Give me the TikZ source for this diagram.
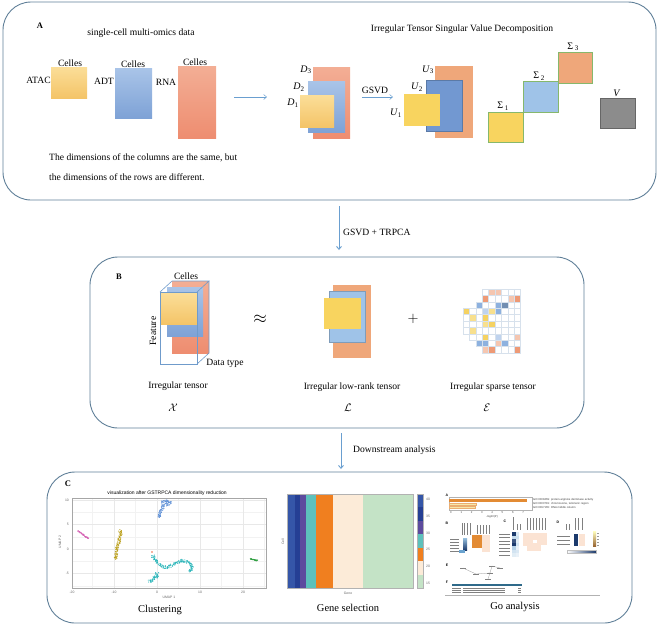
\documentclass[tikz,border=0pt]{standalone}
\usepackage{fontspec}
\setmainfont{Liberation Serif}
\newfontfamily\sansf{Liberation Sans}
\usetikzlibrary{arrows.meta}
\definecolor{panelc}{HTML}{5F7F98}
\definecolor{arrc}{HTML}{6A9FD0}
\definecolor{yelT}{HTML}{FBDE98}
\definecolor{yelB}{HTML}{F4C468}
\definecolor{bluT}{HTML}{A9C4E8}
\definecolor{bluB}{HTML}{7EA2D6}
\definecolor{orT}{HTML}{F3AE95}
\definecolor{orB}{HTML}{EE8D70}
\definecolor{yelS}{HTML}{F8D45F}
\definecolor{bluS}{HTML}{7298D1}
\definecolor{bluL}{HTML}{9FC3E8}
\definecolor{orS}{HTML}{EFA77A}
\definecolor{sigG}{HTML}{86B86C}
\definecolor{grayV}{HTML}{8C8C8C}
\definecolor{cubeE}{HTML}{6F9BCB}
\definecolor{gridc}{HTML}{D7E1EC}
\definecolor{spY}{HTML}{F5D262}
\definecolor{spYL}{HTML}{F8E08E}
\definecolor{spB}{HTML}{8DB1DF}
\definecolor{spBL}{HTML}{BFD3EE}
\definecolor{spO}{HTML}{EE9A76}
\definecolor{spOL}{HTML}{F5C6B0}
\definecolor{uPink}{HTML}{D45FB2}
\definecolor{uGold}{HTML}{BBA01C}
\definecolor{uBlue}{HTML}{5D8FD6}
\definecolor{uTeal}{HTML}{27B4B8}
\definecolor{uRed}{HTML}{F0643C}
\definecolor{uGreen}{HTML}{2E9E40}
\definecolor{hm1}{HTML}{3556A8}
\definecolor{hm2}{HTML}{253F94}
\definecolor{hm3}{HTML}{5D4B9E}
\definecolor{hm4}{HTML}{5DC1BC}
\definecolor{hm5}{HTML}{F07F1F}
\definecolor{hm6}{HTML}{FCEBD8}
\definecolor{hm7}{HTML}{C4E3C6}
\definecolor{goOr}{HTML}{E38B34}
\definecolor{goYe}{HTML}{F7E7A8}
\definecolor{goNavy}{HTML}{1C3A6C}
\definecolor{goLB}{HTML}{6AA3CF}
\definecolor{goPeach}{HTML}{FBE3D3}
\definecolor{goTeal}{HTML}{2F6A8A}
\tikzset{
  panel/.style={draw=panelc, line width=0.9pt, rounded corners=28pt},
  lbl/.style={inner sep=0pt, font=\fontsize{9.6}{10}\selectfont},
  big/.style={inner sep=0pt, font=\fontsize{10.5}{11}\selectfont},
  plab/.style={inner sep=0pt, font=\bfseries\fontsize{8.5}{9}\selectfont},
  idx/.style={inner sep=0pt, font=\fontsize{10}{10}\selectfont},
  thinarr/.style={draw=arrc, line width=0.5pt, -{Straight Barb[length=3pt,width=5pt]}},
  flowarr/.style={draw=arrc, line width=0.9pt, -{Straight Barb[length=3pt,width=5pt]}},
  yelg/.style={top color=yelT, bottom color=yelB},
  blug/.style={top color=bluT, bottom color=bluB},
  org/.style={top color=orT, bottom color=orB},
  sig/.style={draw=sigG, line width=0.6pt},
  tinyt/.style={inner sep=0pt, text=black!75, font=\sansf\fontsize{2.8}{3}\selectfont},
  tinyb/.style={inner sep=0pt, font=\sansf\bfseries\fontsize{3.5}{4}\selectfont},
  axt/.style={inner sep=0pt, text=black!60, font=\sansf\fontsize{3.4}{4}\selectfont},
  txtline/.style={draw=black!50, line width=0.7pt},
  netedge/.style={draw=black!45, line width=0.25pt},
}
\newcommand\umapblob[6]{\foreach \k in {1,...,#6}{\fill[#1] ({#2+#4*rand},{#3+#5*rand}) circle (0.55);}}
\newcommand\spcell[3]{\fill[#3] ({463+6.4*#1},{289+6.4*#2}) rectangle ++(6.4,6.4);}
\begin{document}
\begin{tikzpicture}[x=1pt,y=-1pt]
\useasboundingbox (0,0) rectangle (658,625);
\pgfmathsetseed{11}
%================ PANEL A
\draw[panel] (3,2) rectangle (656,200);
\node[plab] (tA) at (40,26) {A};
\node[lbl] (tsc) at (141,33) {single-cell multi-omics data};
\node[lbl] (tits) at (462,29) {Irregular Tensor Singular Value Decomposition};
% raw blocks
\fill[yelg] (51,67) rectangle (87,98);
\fill[blug] (115,68) rectangle (152,118);
\fill[org] (178,66) rectangle (216,138);
\node[lbl] (tatac) at (38.5,80) {ATAC};
\node[lbl] (tadt) at (104,81) {ADT};
\node[lbl] (trna) at (166,82) {RNA};
\node[lbl] (c1) at (70,63) {Celles};
\node[lbl] (c2) at (133,64) {Celles};
\node[lbl] (c3) at (195,62) {Celles};
\coordinate (ar1s) at (234,97);
\coordinate (ar1e) at (267,97);
\draw[thinarr] (ar1s) -- (ar1e);
% D stack
\fill[org] (313,67) rectangle (350,138);
\fill[blug] (308,81) rectangle (345,132);
\fill[yelg] (300,95) rectangle (334,127);
\node[idx] (d3) at (306,70) {\textit{D}\textsubscript{3}};
\node[idx] (d2) at (299,87) {\textit{D}\textsubscript{2}};
\node[idx] (d1) at (293,103) {\textit{D}\textsubscript{1}};
% GSVD arrow
\coordinate (ar2s) at (362,97);
\coordinate (ar2e) at (393,97);
\draw[thinarr] (ar2s) -- (ar2e);
\node[lbl] (tgsvd) at (375,90) {GSVD};
% U stack
\fill[orS] (435,66) rectangle (473,138);
\filldraw[fill=bluS, draw=bluS!80!black, line width=0.3pt] (426,80) rectangle (462,131);
\fill[yelS] (404,94) rectangle (440,126);
\node[idx] (u3) at (428,70) {\textit{U}\textsubscript{3}};
\node[idx] (u2) at (417,87) {\textit{U}\textsubscript{2}};
\node[idx] (u1) at (396,113) {\textit{U}\textsubscript{1}};
% Sigma blocks
\fill[yelS] (488,112) rectangle (523,142);
\fill[bluL] (523,81) rectangle (558,112);
\fill[orS] (558,52) rectangle (592,83);
\draw[sig] (488,112) rectangle (523,142);
\draw[sig] (523,81) rectangle (558,112);
\draw[sig] (558,52) rectangle (592,83);
\node[idx] (s1) at (503,106) {Σ\,\textsubscript{1}};
\node[idx] (s2) at (539,76) {Σ\,\textsubscript{2}};
\node[idx] (s3) at (573,47) {Σ\,\textsubscript{3}};
\filldraw[fill=grayV, draw=black!60, line width=0.4pt] (600,98) rectangle (635,128);
\node[idx] (tv) at (617,93) {\textit{V}};
\node[lbl, anchor=west] (tl1) at (49,158) {The dimensions of the columns are the same, but};
\node[lbl, anchor=west] (tl2) at (49,177) {the dimensions of the rows are different.};
%================ arrow A -> B
\coordinate (ab1) at (339,206);
\coordinate (ab2) at (339,250);
\draw[flowarr] (ab1) -- (ab2);
\node[lbl, anchor=west] (tgt) at (343,232) {GSVD + TRPCA};
%================ PANEL B
\draw[panel] (90,257) rectangle (584,428);
\node[plab] (tB) at (119,277) {B};
% cube
\fill[org] (172,281) rectangle (209,353);
\fill[blug] (167,287) rectangle (203,336);
\fill[yelg] (160,293) rectangle (197,324);
\draw[cubeE, line width=0.6pt] (160,292) rectangle (197,364);
\draw[cubeE, line width=0.6pt] (160,292) -- (172,281) -- (209,281) -- (197,292);
\draw[cubeE, line width=0.6pt] (209,281) -- (209,353) -- (197,364);
\node[lbl] (tcel) at (186,276) {Celles};
\node[lbl, rotate=90] (tfeat) at (153,331) {Feature};
\node[lbl] (tdt) at (225,363) {Data type};
\node[inner sep=0pt, font=\fontsize{18}{18}\selectfont] (tapp) at (260,319) {$\approx$};
\node[lbl] (tirr) at (178,386) {Irregular tensor};
\node[inner sep=0pt, font=\fontsize{11}{11}\selectfont] (tX) at (173,408) {$\mathcal{X}$};
% low rank
\fill[orS] (333,285) rectangle (371,358);
\filldraw[fill=bluL, draw=bluL!80!black, line width=0.3pt] (329,291) rectangle (365,342);
\fill[yelS] (324,298) rectangle (361,329);
\node[lbl] (tlr) at (352,387) {Irregular low-rank tensor};
\node[inner sep=0pt, font=\fontsize{11}{11}\selectfont] (tL) at (348,408) {$\mathcal{L}$};
\node[inner sep=0pt, font=\fontsize{15}{15}\selectfont] (tplus) at (413,319) {$+$};
% sparse tensor
\spcell{4}{0}{spOL}\spcell{5}{0}{spOL}
\spcell{3}{1}{spO}\spcell{7}{1}{spOL}\spcell{8}{1}{spO}
\spcell{2}{2}{spB}\spcell{5}{2}{spB}\spcell{6}{2}{spB!80!black}
\spcell{0}{3}{spY}\spcell{3}{3}{spBL}\spcell{4}{3}{spYL}\spcell{5}{3}{spB}
\spcell{1}{4}{spYL}\spcell{3}{4}{spY}
\spcell{3}{5}{spYL}\spcell{4}{5}{spY}
\spcell{1}{6}{spYL}
\spcell{3}{7}{spY}\spcell{5}{7}{spBL}\spcell{8}{7}{spOL}
\spcell{2}{8}{spB}\spcell{3}{8}{spB}\spcell{6}{8}{spB}\spcell{5}{8}{spOL}
\spcell{3}{9}{spOL}\spcell{4}{9}{spO}\spcell{8}{9}{spO}
\foreach \r/\a/\b in {0/3/9,1/3/9,2/2/9,3/0/9,4/0/9,5/0/9,6/0/9,7/1/9,8/2/9,9/3/9}{
  \draw[gridc, line width=0.4pt] ({463+6.4*\a},{289+6.4*\r}) rectangle ({463+6.4*\b},{289+6.4*(\r+1)});
  \pgfmathtruncatemacro\aa{\a+1}
  \foreach \c in {\aa,...,8}{\draw[gridc, line width=0.4pt] ({463+6.4*\c},{289+6.4*\r}) -- ({463+6.4*\c},{289+6.4*(\r+1)});}
}
\node[lbl] (tsp) at (493,387) {Irregular sparse tensor};
\node[inner sep=0pt, font=\fontsize{11}{11}\selectfont] (tE) at (487,408) {$\mathcal{E}$};
%================ arrow B -> C
\coordinate (bc1) at (341,433);
\coordinate (bc2) at (341,469);
\draw[flowarr] (bc1) -- (bc2);
\node[lbl, anchor=west] (tds) at (353,450) {Downstream analysis};
%================ PANEL C
\draw[panel] (47,472) rectangle (632,623);
\node[plab] (tC) at (68,484) {C};
% UMAP
\node[inner sep=0pt, font=\sansf\fontsize{5}{5}\selectfont] (utitle) at (167,493) {visualization after GSTRPCA dimensionality reduction};
\foreach \x in {92.5,135.5,178.5,221.5,264.5}{\draw[black!5, line width=0.3pt] (\x,498) -- (\x,588);}
\foreach \y in {512,537,561,586}{\draw[black!5, line width=0.3pt] (72,\y) -- (266,\y);}
\foreach \x in {114,157,200,243}{\draw[black!9, line width=0.5pt] (\x,498) -- (\x,588);}
\foreach \y in {500,524.5,549,573.5}{\draw[black!9, line width=0.5pt] (72,\y) -- (266,\y);}
\draw[black!35, line width=0.5pt] (72,498) rectangle (266,588);
\foreach \v/\y in {10/500,5/524.5,0/549,-5/573.5}{\node[axt, anchor=east] (uy\v) at (69,\y) {\v};}
\foreach \u/\x in {-20/72,-10/114,0/157,10/200,20/243}{\node[axt] (ux\u) at (\x,592.5) {\u};}
\node[axt] (uxl) at (169,597) {UMAP 1};
\node[axt, rotate=90] (uyl) at (60,542) {UMAP 2};
\foreach \p/\q in {78/531,79/531.7,80/532.5,81/533.2,82/534,83/534.7,84/535.5,85/536.2,86/537,87/537.5,88/538}{\umapblob{uPink}{\p}{\q}{0.6}{0.5}{4}}
\foreach \p/\q in {120/531,120.5/533,120.5/535,120/537,119.5/539,119/541,118.5/543,118/545,117.5/547,117/549,116.5/551,116.5/553,116/555,115.5/557,115.5/558}{\umapblob{uGold}{\p}{\q}{1.5}{1.4}{8}}
\foreach \p/\q in {163/502,165/501,167/501,169/502,170/503,166/504,168/505,163/505,163/507,162/509,161/511,160/513,159.5/515,159/516.5}{\umapblob{uBlue}{\p}{\q}{1.6}{1.3}{8}}
\foreach \p/\q in {153/556,154/557.5,155/559,156/560.5,157/562,158.5/563.5,160/565,162/566,164/567,166/567.5,168/567,170/566,172/565,174/564,176/563,178/562,180/561,182/560.5,184/561,186/561.5,188/562,190/563.5,191/565,192/566.5,192/568,191/569.5,190/571}{\umapblob{uTeal}{\p}{\q}{1.5}{1.3}{7}}
\foreach \p/\q in {150/581,151.5/580,153/579,154.5/578,156/577,156.5/575.5,157/574}{\umapblob{uTeal}{\p}{\q}{1.8}{1.5}{8}}
\fill[uRed] (152,552) circle (0.9);
\foreach \p/\q in {251/559,252/559.2,253/559.5,254/559.8,255/560,256/560.2,257/560.5}{\umapblob{uGreen}{\p}{\q}{0.7}{0.5}{4}}
\node[big] (tclu) at (160,610) {Clustering};
% heatmap
\fill[hm1] (287,494) rectangle (295,588);
\fill[hm2] (295,494) rectangle (300,588);
\fill[hm3] (300,494) rectangle (306,588);
\fill[hm4] (306,494) rectangle (316,588);
\fill[hm5] (316,494) rectangle (333,588);
\fill[hm6] (333,494) rectangle (363,588);
\fill[hm7] (363,494) rectangle (413,588);
\draw[black!30, line width=0.5pt] (287,494) rectangle (413,588);
\foreach \i/\c in {0/hm1,1/hm2,2/hm3,3/hm4,4/hm5,5/hm6,6/hm7}{\fill[\c] (417,{494+13.43*\i}) rectangle (423,{494+13.43*(\i+1)});}
\draw[black!30, line width=0.4pt] (417,494) rectangle (423,588);
\foreach \v/\y in {40/499,35/516,30/533,25/549,20/566,15/583}{\node[axt, anchor=west] (hl\v) at (426,\y) {\v};}
\node[axt] (hgene) at (348,593) {Gene};
\node[axt, rotate=90] (hcell) at (283,542) {Cell};
\node[big] (tgs) at (348,608) {Gene selection};
% GO analysis composite
\node[tinyb] (goA) at (447,495) {A};
\draw[black!30, line width=0.3pt] (449,497) rectangle (532,510);
\fill[goOr] (449,498.5) rectangle (527,502);
\filldraw[fill=goYe, draw=goOr!70, line width=0.2pt] (449,503.3) rectangle (476,505.3);
\filldraw[fill=goYe, draw=goOr!70, line width=0.2pt] (449,506.3) rectangle (475,508.3);
\foreach \i in {0,...,7}{\node[tinyt] (gox\i) at ({451+\i*10.3},512.5) {\i};}
\node[tinyt] (golab) at (492,516.5) {-log10(P)};
\node[tinyt, anchor=west] (gt1) at (533,500) {GO:0008469: protein-arginine deiminase activity};
\node[tinyt, anchor=west] (gt2) at (533,503.5) {GO:0000781: chromosome, telomeric region};
\node[tinyt, anchor=west] (gt3) at (533,507) {GO:0097165: RNA middle column};
% B
\node[tinyb] (goB) at (447,523) {B};
\foreach \y in {539,542,545,548,551}{\draw[txtline] (450,\y) -- (459,\y);}
\foreach \x in {462,464.5,467,470}{\draw[txtline, line width=0.5pt] (\x,523) -- (\x,535);}
\foreach \x in {477,480,483,486,489}{\draw[txtline, line width=0.5pt] (\x,525) -- (\x,534);}
\shade[top color=goLB!70, bottom color=goNavy] (463,538) rectangle (467,550);
\fill[goLB] (459,550) rectangle (465,553);
\fill[goOr] (472,535) rectangle (482,548);
\fill[goPeach] (482,535) rectangle (490,552);
% C
\node[tinyb] (goC) at (505,521) {C};
\draw[txtline, line width=0.5pt] (513,517) -- (513,530);
\foreach \x in {517,520}{\draw[txtline, line width=0.5pt] (\x,524) -- (\x,530);}
\foreach \x in {527,530,533,536,539,542,545}{\draw[txtline, line width=0.5pt] (\x,518) -- (\x,530);}
\foreach \y in {534,537.5,541,544.5,548,551.5,555}{\draw[txtline] (499,\y) -- (510,\y);}
\foreach \i/\c in {0/goNavy,1/goLB!40,2/goNavy!85,3/goNavy,4/goLB!50,5/goLB!30,6/goLB!20}{\fill[\c] (512,{532+3.5*\i}) rectangle (516,{532+3.5*(\i+1)});}
\foreach \i/\c in {0/goLB!25,1/goLB!35,2/goLB!20,3/goLB!30,4/goLB!15,5/goLB!25,6/goLB!15}{\fill[\c] (516,{532+3.5*\i}) rectangle (519,{532+3.5*(\i+1)});}
\fill[goPeach] (523,533) rectangle (547,551);
\fill[white] (533,540) rectangle (537,543);
\fill[white] (541,545) rectangle (547,551);
\fill[white] (523,546) rectangle (527,551);
% D
\node[tinyb] (goD) at (558,522) {D};
\foreach \x in {566,569}{\draw[txtline, line width=0.5pt] (\x,524) -- (\x,530);}
\foreach \x in {575,578,582}{\draw[txtline, line width=0.5pt] (\x,518) -- (\x,530);}
\foreach \y in {536,540,544}{\draw[txtline] (557,\y) -- (570,\y);}
\fill[goNavy] (574,534) rectangle (578,546);
\fill[goPeach] (579,534) rectangle (585,546);
\shade[top color=yellow!25, bottom color=brown!80!black] (593,531) rectangle (596,546);
\foreach \y in {533,536,539,542,545}{\draw[black!40, line width=0.4pt] (597,\y) -- (599,\y);}
\shade[left color=white, right color=goNavy] (567,550) rectangle (596,553);
\draw[black!25, line width=0.2pt] (567,550) rectangle (596,553);
% E network
\node[tinyb] (goE) at (447,565) {E};
\coordinate (n1) at (463,568);
\coordinate (n2) at (476,574);
\coordinate (n3) at (490,573);
\coordinate (n4) at (492,566);
\coordinate (n5) at (500,568);
\coordinate (n6) at (488,579);
\foreach \n in {n1,n2,n3,n4,n5,n6}{\draw[txtline, line width=0.6pt] ([xshift=-3pt]\n) -- ([xshift=3pt]\n);}
\draw[netedge] (n1) -- (n2);
\draw[netedge] (n2) -- (n3);
\draw[netedge] (n3) -- (n4);
\draw[netedge] (n4) -- (n5);
\draw[netedge] (n3) -- (n6);
% F table
\node[tinyb] (goF) at (447,582) {F};
\fill[goTeal] (452,584) rectangle (522,586);
\foreach \y in {588,590,592}{\draw[txtline, line width=0.5pt] (452,\y) -- (461,\y); \draw[txtline, line width=0.5pt] (463,\y) -- (505,\y); \draw[txtline, line width=0.5pt] (518,\y) -- (521,\y);}
\draw[black!30, line width=0.4pt] (445,595.5) -- (600,595.5);
\node[big] (tgo) at (515,607) {Go analysis};
\end{tikzpicture}
\end{document}
